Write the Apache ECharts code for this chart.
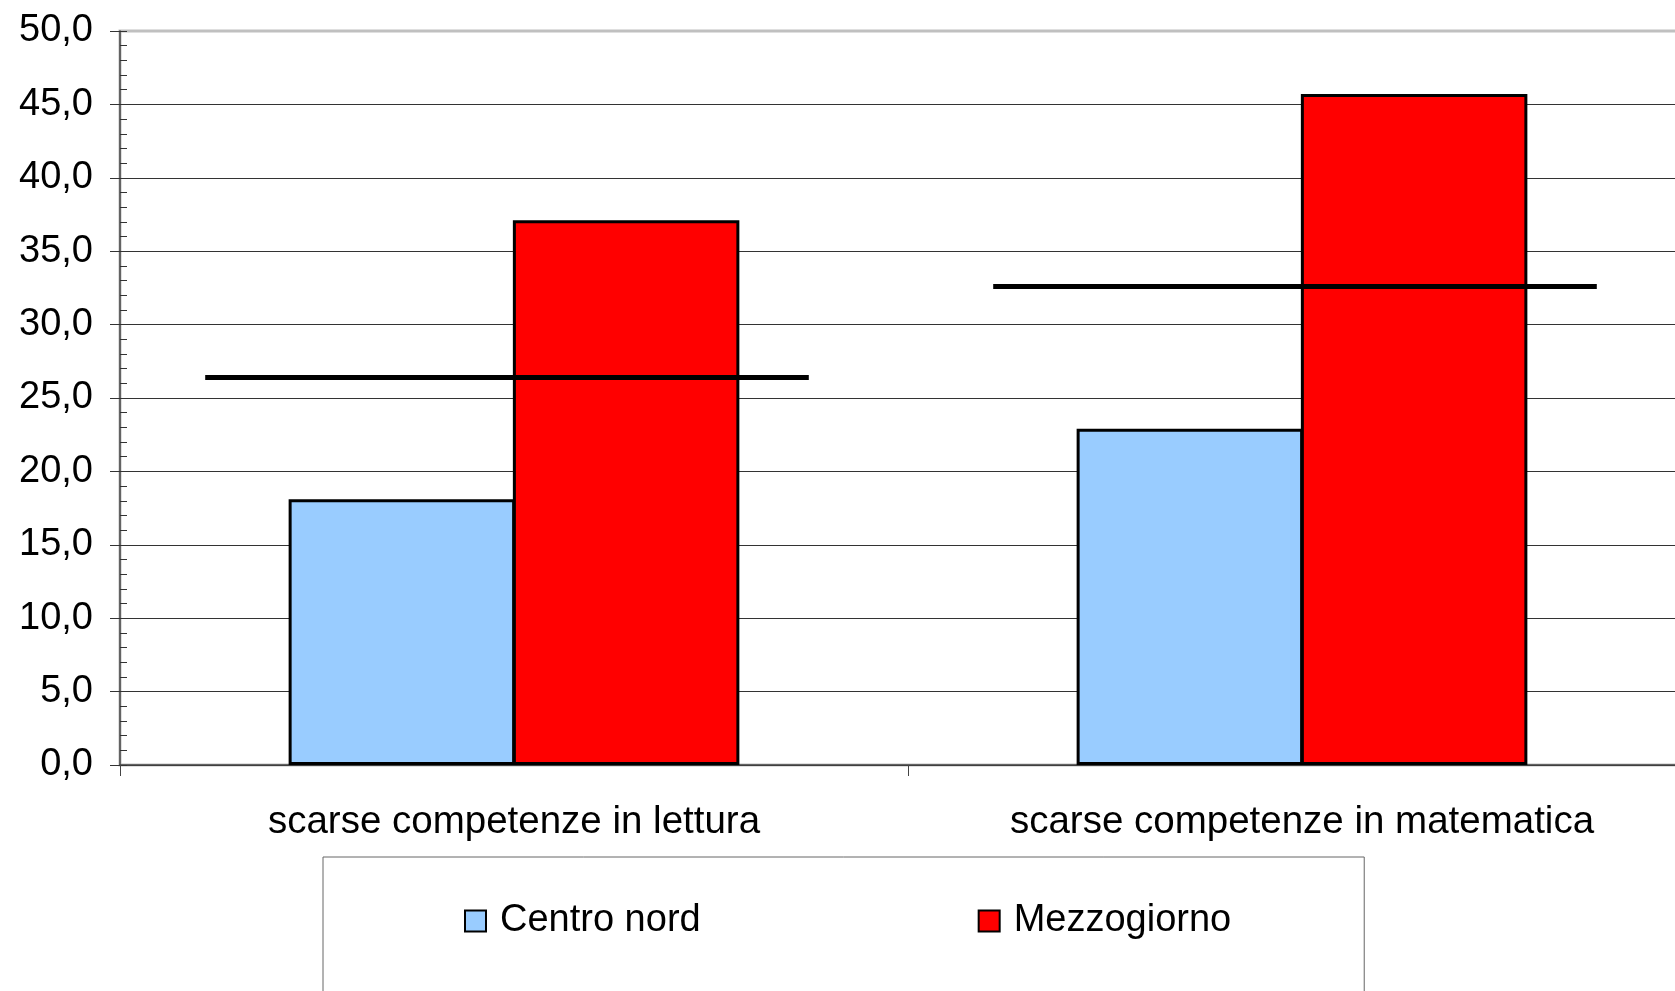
<!DOCTYPE html>
<html>
<head>
<meta charset="utf-8">
<script src="https://cdn.jsdelivr.net/npm/echarts@6/dist/echarts.min.js"></script>
<style>
  html, body { margin: 0; padding: 0; background: #fff; overflow: hidden; }
  /* il grafico originale continua oltre il bordo destro */
  #chart { width: 1700px; height: 991px; }
</style>
</head>
<body>
<div id="chart"></div>
<script>
// dati
var categories = ['scarse competenze in lettura', 'scarse competenze in matematica'];
var centroNord = [18.1, 22.9];
var mezzogiorno = [37.1, 45.7];
var italia = [26.4, 32.6]; // linee orizzontali nere (media)
var seriesNames = ['Centro nord', 'Mezzogiorno'];

var font = "'Liberation Sans', Arial, sans-serif";

// griglia: l'ultima linea (50,0) trasparente, la cornice del grid la disegna grigia
var splitColors = [];
for (var i = 0; i < 10; i++) splitColors.push('#333');
splitColors.push('rgba(0,0,0,0)');

var chart = echarts.init(document.getElementById('chart'));
chart.setOption({
  animation: false,
  backgroundColor: '#fff',
  textStyle: { fontFamily: font },
  grid: {
    left: 120,
    top: 31,
    bottom: 226,
    right: 4,
    show: true,
    borderColor: '#c0c0c0',
    borderWidth: 3
  },
  legend: {
    data: seriesNames,
    icon: 'rect',
    left: 323,
    top: 857,
    padding: [45, 133, 120, 141],
    itemGap: 277,
    itemWidth: 21,
    itemHeight: 21,
    borderColor: '#666',
    borderWidth: 1,
    textStyle: { fontSize: 38, color: '#000', fontFamily: font, padding: [0, 0, 0, 9] }
  },
  xAxis: {
    type: 'category',
    data: categories,
    axisLine: { lineStyle: { color: '#444', width: 1.5 } },
    axisTick: { show: true, length: 11, lineStyle: { color: '#444' } },
    axisLabel: { fontSize: 38.5, color: '#000', margin: 38, fontFamily: font },
    splitLine: { show: false }
  },
  yAxis: [
    {
      type: 'value',
      min: 0,
      max: 50,
      interval: 5,
      axisLine: { show: true, lineStyle: { color: '#444', width: 1.5 } },
      axisTick: { show: true, length: 10, lineStyle: { color: '#333' } },
      axisLabel: {
        fontSize: 38, color: '#000', margin: 27, fontFamily: font,
        formatter: function (v) { return v.toFixed(1).replace('.', ','); }
      },
      splitLine: { show: true, lineStyle: { color: splitColors, width: 1 } }
    },
    {
      // tacche secondarie verso l'interno
      type: 'value',
      position: 'left',
      min: 0,
      max: 50,
      interval: 1,
      axisLine: { show: false },
      axisTick: { show: true, inside: true, length: 7, lineStyle: { color: '#333' } },
      axisLabel: { show: false },
      splitLine: { show: false }
    }
  ],
  series: [
    {
      name: seriesNames[0],
      type: 'bar',
      data: centroNord,
      barGap: '-1%',
      barCategoryGap: '42.8%',
      itemStyle: { color: '#99ccff', borderColor: '#000', borderWidth: 3 }
    },
    {
      name: seriesNames[1],
      type: 'bar',
      data: mezzogiorno,
      itemStyle: { color: '#ff0000', borderColor: '#000', borderWidth: 3 }
    },
    {
      name: 'Italia',
      type: 'custom',
      z: 5,
      data: italia.map(function (v, i) { return [i, v]; }),
      renderItem: function (params, api) {
        var p = api.coord([api.value(0), api.value(1)]);
        var band = api.size([1, 0])[0];
        var half = band * 0.383;
        var cx = p[0] - 7;
        return {
          type: 'line',
          shape: { x1: cx - half, y1: p[1], x2: cx + half, y2: p[1] },
          style: { stroke: '#000', lineWidth: 5 }
        };
      }
    }
  ]
});
</script>
</body>
</html>
